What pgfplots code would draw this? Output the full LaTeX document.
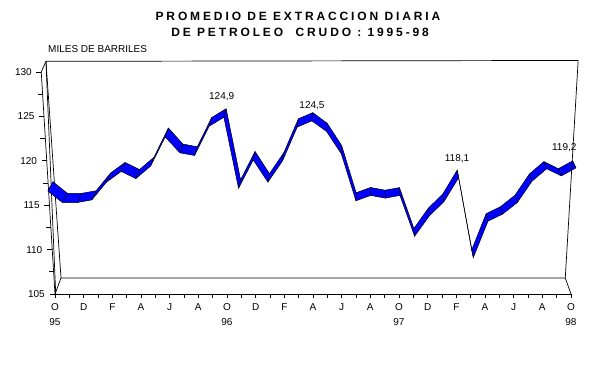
\documentclass[border=0pt]{standalone}
\usepackage{fontspec}
\setmainfont{Liberation Sans}
\newfontfamily\titlefont[LetterSpace=24]{Liberation Sans}
\usepackage{pgfplots}
\usepackage{pgfplotstable}
\pgfplotsset{compat=1.18}
\usepgfplotslibrary{fillbetween}

\pgfplotstableread{
m v
0 116.6
1 115.3
2 115.3
3 115.6
4 117.6
5 118.8
6 118.0
7 119.4
8 122.7
9 120.9
10 120.6
11 123.9
12 124.9
13 116.9
14 120.1
15 117.6
16 120.0
17 123.8
18 124.5
19 123.3
20 120.8
21 115.5
22 116.1
23 115.8
24 116.1
25 111.5
26 113.8
27 115.4
28 118.1
29 109.1
30 113.2
31 114.0
32 115.3
33 117.7
34 119.1
35 118.3
36 119.2
}\datatable

\pgfplotstableread{
y
105
107.5
110
112.5
115
117.5
120
122.5
125
127.5
130
}\yticktable

\begin{document}
\begin{tikzpicture}
\begin{axis}[
  scale only axis, width=516pt, height=222pt,
  xmin=0, xmax=36, ymin=105, ymax=130,
  axis x line=bottom, axis y line=left,
  x axis line style={-, line width=0.7pt},
  y axis line style={draw=none},
  xtick={0,2,...,36}, minor xtick={1,3,...,35},
  xticklabels={O\\95,D,F,A,J,A,O\\96,D,F,A,J,A,O\\97,D,F,A,J,A,O\\98},
  ytick={105,110,...,130},
  yticklabels={105,110\kern2.6pt,115\kern5.2pt,120\kern7.8pt,125\kern10.4pt,130\kern13pt},
  tick align=outside, major tick length=4pt, minor tick length=4pt,
  x tick style={black, line width=0.7pt},
  y tick style={draw=none},
  xticklabel style={font=\fontsize{10}{15}\selectfont, align=center, inner sep=0pt, yshift=-5pt},
  yticklabel style={font=\fontsize{10}{12}\selectfont, anchor=east, inner sep=0pt, xshift=-6pt},
  clip=false,
]
% box frame (left and back)
\draw[line width=0.7pt] (axis cs:0,105) -- (axis cs:-0.96,130) -- (axis cs:-0.63,131.2) -- (axis cs:36.5,131.3);
\draw[line width=0.7pt] (axis cs:-0.63,131.2) -- (axis cs:0.42,106.8) -- (axis cs:35.6,106.8);
\draw[line width=0.7pt] (axis cs:0.42,106.8) -- (axis cs:0,105);
\draw[line width=0.7pt] (axis cs:-0.63,131.2) -- (axis cs:0.05,105);
% y ticks along slanted axis
\addplot[black, line width=0.7pt, quiver={u=-0.35,v=0}] table[x expr={-0.96*(\thisrow{y}-105)/25}, y=y] {\yticktable};
% ribbon
\addplot[draw=none, name path=lo] table[x expr={\thisrow{m}*1.0236-0.5}, y=v] {\datatable};
\addplot[draw=none, name path=hi] table[x expr={\thisrow{m}*1.0236-0.5+0.35-0.016*\thisrow{m}}, y expr={\thisrow{v}+1.05-0.007*\thisrow{m}}] {\datatable};
\addplot[fill=blue, draw=none] fill between[of=lo and hi, on layer=main];
\addplot[black, line width=0.5pt] table[x expr={\thisrow{m}*1.0236-0.5}, y=v] {\datatable};
\addplot[black, line width=0.5pt] table[x expr={\thisrow{m}*1.0236-0.5+0.35-0.016*\thisrow{m}}, y expr={\thisrow{v}+1.05-0.007*\thisrow{m}}] {\datatable};
\addplot[black, line width=0.5pt, quiver={u={0.35-0.016*\thisrow{m}}, v={1.05-0.007*\thisrow{m}}}] table[x expr={\thisrow{m}*1.0236-0.5}, y=v] {\datatable};
% right edge of the box
\draw[line width=0.7pt] (axis cs:36.5,131.3) -- (axis cs:35.6,106.8) -- (axis cs:36,105);
% value labels
\node[font=\fontsize{10}{12}\selectfont] at (axis cs:11.63,127.18) {124,9};
\node[font=\fontsize{10}{12}\selectfont] at (axis cs:17.93,126.2) {124,5};
\node[font=\fontsize{10}{12}\selectfont] at (axis cs:28.05,120.2) {118,1};
\node[font=\fontsize{10}{12}\selectfont] at (axis cs:35.53,121.52) {119,2};
% axis title
\node[font=\fontsize{10}{12}\selectfont, anchor=west, inner sep=0pt] at (axis cs:-0.49,132.59) {MILES DE BARRILES};
% chart title
\node[font=\titlefont\bfseries\fontsize{12}{14}\selectfont, inner sep=0pt] at (axis cs:16.95,136.25) {PROMEDIO DE EXTRACCION DIARIA};
\node[font=\titlefont\bfseries\fontsize{12}{14}\selectfont, inner sep=0pt] at (axis cs:17.1,134.5) {DE PETROLEO\ \ CRUDO : 1995-98};
% page extent
\path (axis cs:-3.837,96.104) rectangle (axis cs:37.396,138.108);
\end{axis}
\end{tikzpicture}
\end{document}
